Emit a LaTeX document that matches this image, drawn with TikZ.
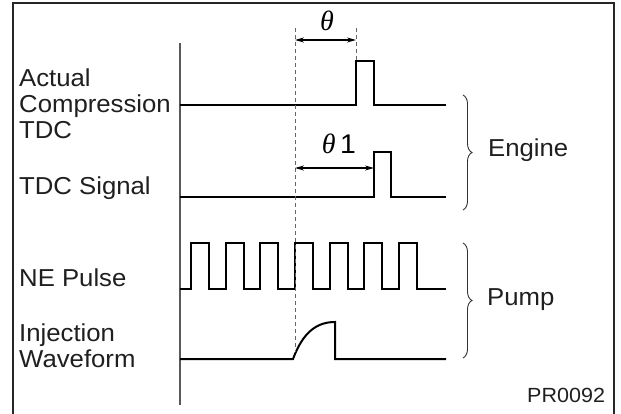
\documentclass[tikz,border=0pt]{standalone}
\usepackage{fontspec}
\setmainfont{Liberation Sans}[FakeStretch=1.05]
\newfontfamily\greekfont{Liberation Serif}
\usetikzlibrary{arrows.meta}
\usetikzlibrary{decorations.pathreplacing}
\tikzset{sig/.style = {line width=2pt, line join=miter}}
\tikzset{lbl/.style = {anchor=west, inner sep=0, align=left, text=black!88, font=\fontsize{24.5}{26}\selectfont}}
\tikzset{guide/.style = {gray!80!black, line width=1pt, dash pattern=on 4pt off 3pt}}
\tikzset{brc/.style = {decorate, decoration={brace, amplitude=9pt}, line width=0.9pt, gray!40!black}}

\begin{document}
\begin{tikzpicture}[x=1pt, y=-1pt]
      \useasboundingbox (0,0) rectangle (621,414);

      % frame, open at the bottom
      \draw[line width=2.5pt, black!85] (13,414) -- (13,3) -- (614,3) -- (614,414);

      % time axis
      \draw[line width=1.3pt, gray!70!black] (180,43) -- (180,405);

      % labels
      \node[lbl] (actual) at (19,104) {Actual\\Compression\\TDC};
      \node[lbl] (tdcsig) at (19,188) {TDC Signal};
      \node[lbl] (nepulse) at (19,278) {NE Pulse};
      \node[lbl] (inj) at (19,346) {Injection\\Waveform};

      % signals
      \draw[sig] (180,105) -- (356,105) -- (356,61) -- (374,61) -- (374,105) -- (446,105);
      \draw[sig] (180,197) -- (374,197) -- (374,152) -- (391,152) -- (391,197) -- (446,197);
      \draw[sig] (180,289) foreach \x in {191,225.7,260.4,295,329.7,364.4,399} {
            -- (\x,289) -- (\x,243) -- (\x+18,243) -- (\x+18,289)} -- (446,289);
      \draw[sig] (180,359) -- (293,359) .. controls (303,332) and (317,322) .. (335,322) -- (335,359) -- (446,359);

      % reference lines
      \coordinate (ref top) at (295,28);
      \coordinate (ref bot) at (295,352);
      \coordinate (tdc top) at (356,28);
      \coordinate (tdc pulse) at (356,61);
      \draw[guide] (ref top) -- (ref bot);
      \draw[guide] (tdc top) -- (tdc pulse);

      % angles
      \coordinate (th a) at (295,40);
      \coordinate (th b) at (356,40);
      \coordinate (th1 a) at (295,168);
      \coordinate (th1 b) at (374,168);
      \draw[line width=1.2pt, {Stealth[length=9pt, width=5pt]}-{Stealth[length=9pt, width=5pt]}] (th a) -- (th b);
      \draw[line width=1.2pt, {Stealth[length=9pt, width=5pt]}-{Stealth[length=9pt, width=5pt]}] (th1 a) -- (th1 b);
      \node[font=\fontsize{28}{30}\selectfont] (theta) at (327,21) {\greekfont\itshape θ};
      \node[font=\fontsize{27}{30}\selectfont] (theta1) at (339,144) {{\greekfont\fontsize{28}{30}\selectfont\itshape θ}\,1};

      % groups
      \draw[brc] (463,95) -- (463,210);
      \draw[brc] (463,243) -- (463,358);
      \node[lbl] (engine) at (488,150) {Engine};
      \node[lbl] (pump) at (487,300) {Pump};

      \node[lbl, font=\fontsize{20.5}{24}\selectfont] (code) at (527,395) {PR0092};
  \end{tikzpicture}
\end{document}
